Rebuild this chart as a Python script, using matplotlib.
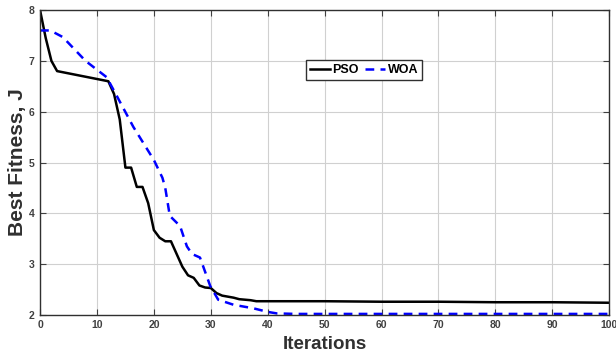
import numpy as np
import matplotlib
matplotlib.use("Agg")
import matplotlib.pyplot as plt

plt.rcParams['font.family'] = ['Liberation Sans', 'DejaVu Sans']

# values
pso_x = [0, 1, 2, 3, 12, 13, 14, 15, 16, 17, 18, 19, 20, 21, 22, 23, 24, 25, 26, 27,
         28, 29, 30, 31, 32, 33, 34, 35, 36, 37, 38, 40, 50, 60, 70, 80, 90, 100]
pso_y = [8.0, 7.45, 7.0, 6.8, 6.6, 6.35, 5.85, 4.9, 4.9, 4.52, 4.52, 4.2, 3.67, 3.52,
         3.45, 3.45, 3.2, 2.95, 2.78, 2.73, 2.58, 2.54, 2.53, 2.43, 2.38, 2.36, 2.34,
         2.31, 2.30, 2.29, 2.27, 2.27, 2.27, 2.26, 2.26, 2.25, 2.25, 2.24]

woa_x = [0, 1.8, 4, 8, 11.7, 13.2, 16.4, 20, 21.5, 22, 22.8, 24.6, 25.8, 26.7, 28.1,
         29.9, 31.3, 34, 37.5, 40, 41.6, 45, 100]
woa_y = [7.6, 7.6, 7.47, 7.0, 6.68, 6.37, 5.7, 5.05, 4.7, 4.5, 3.95, 3.75, 3.35, 3.2,
         3.13, 2.57, 2.3, 2.2, 2.13, 2.06, 2.03, 2.02, 2.02]

x_ticks = list(range(0, 101, 10))
y_ticks = [2, 3, 4, 5, 6, 7, 8]

fig = plt.figure(figsize=(6.16, 3.62), dpi=100)
ax = fig.add_axes([0.065, 0.130, 0.924, 0.842])

ax.plot(pso_x, pso_y, color="black", lw=1.8, label="PSO")
ax.plot(woa_x, woa_y, color="blue", lw=1.8, ls=(0, (3.5, 2.5)), label="WOA")

ax.set_xlim(0, 100)
ax.set_ylim(2, 8)
ax.set_xticks(x_ticks)
ax.set_yticks(y_ticks)
ax.grid(True, color="#d0d0d0", lw=0.8)
ax.tick_params(direction="in", top=True, right=True, labelsize=7.5, length=4,
               colors="#404040", labelcolor="#404040", pad=4)
for lbl in ax.get_xticklabels() + ax.get_yticklabels():
    lbl.set_fontweight("bold")
for sp in ax.spines.values():
    sp.set_color("#303030")
    sp.set_linewidth(1.0)

ax.set_xlabel("Iterations", fontsize=13.5, fontweight="bold", color="#303030", labelpad=4)
ax.set_ylabel("Best Fitness, J", fontsize=15, fontweight="bold", color="#303030", labelpad=1)

leg = ax.legend(loc="center", bbox_to_anchor=(0.569, 0.803), ncol=2, fancybox=False,
                framealpha=1, edgecolor="#303030", handlelength=1.6, handletextpad=0.2,
                columnspacing=0.5, borderpad=0.3, prop={"weight": "bold", "size": 9})
leg.get_frame().set_linewidth(1.0)

fig.savefig("out.png", dpi=100)
